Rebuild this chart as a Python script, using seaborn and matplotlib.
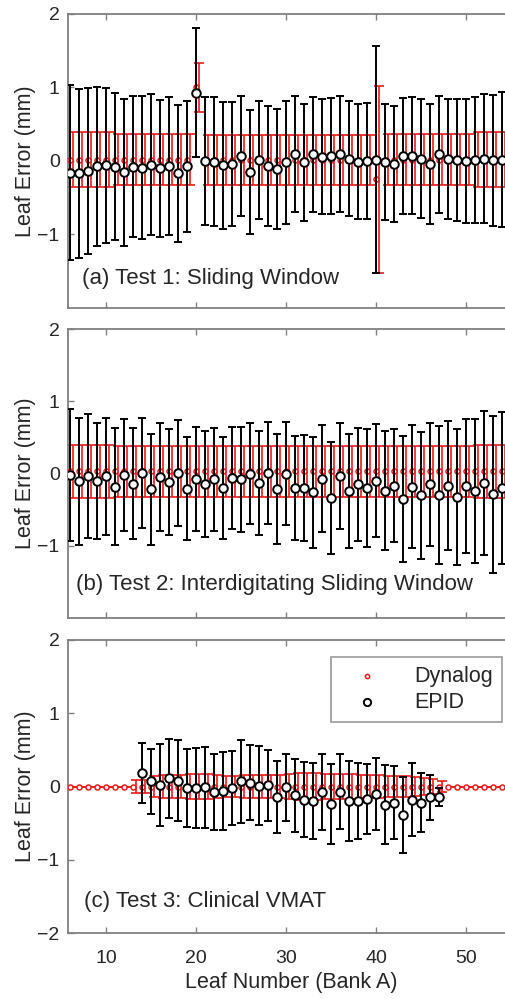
import numpy as np
import pandas as pd
import matplotlib
matplotlib.use("Agg")
import matplotlib.pyplot as plt
import matplotlib.transforms as mtransforms
import seaborn as sns

# ---------------- data ----------------
leaves = list(range(6, 55))

# Panel (a) Test 1: Sliding Window
t1_dyn_mean = [0.02] * 14 + [1.00] + [0.02] * 19 + [-0.25] + [0.02] * 14
t1_dyn_err = [0.37] * 5 + [0.35] * 9 + [0.33] + [0.34] * 19 + [1.27] + [0.35] * 10 + [0.37] * 4
t1_epid_mean = [-0.16, -0.17, -0.14, -0.07, -0.06, -0.08, -0.15, -0.08, -0.09, -0.05,
                -0.10, -0.07, -0.17, -0.07, 0.93, 0.00, -0.01, -0.06, -0.04, 0.07,
                -0.15, 0.01, -0.07, -0.11, -0.02, 0.09, -0.02, 0.09, 0.06, 0.07,
                0.09, 0.03, -0.01, 0.00, 0.02, -0.01, -0.04, 0.07, 0.07, 0.03,
                -0.04, 0.09, 0.03, 0.01, 0.00, 0.01, 0.03, 0.01, 0.02]
t1_epid_err = [1.19, 1.15, 1.13, 1.08, 1.05, 1.00, 1.00, 0.96, 0.97, 0.96,
               0.93, 0.94, 0.93, 0.89, 0.88, 0.87, 0.875, 0.865, 0.845, 0.82,
               0.84, 0.805, 0.815, 0.815, 0.84, 0.79, 0.80, 0.78, 0.78, 0.79,
               0.79, 0.78, 0.78, 0.79, 1.54, 0.79, 0.785, 0.785, 0.795, 0.81,
               0.815, 0.80, 0.82, 0.83, 0.845, 0.855, 0.875, 0.89, 0.915]

# Panel (b) Test 2: Interdigitating Sliding Window
t2_dyn_mean = [0.03] * 49
t2_dyn_err = [0.37] * 5 + [0.35] * 40 + [0.37] * 4
t2_epid_mean = [-0.02, -0.11, -0.03, -0.10, -0.04, -0.18, -0.02, -0.14, 0.01, -0.22,
                -0.05, -0.12, 0.01, -0.21, -0.08, -0.14, -0.08, -0.20, -0.06, -0.08,
                0.00, -0.13, 0.01, -0.22, 0.00, -0.20, -0.20, -0.26, -0.07, -0.34,
                -0.04, -0.24, -0.15, -0.20, -0.10, -0.24, -0.17, -0.35, -0.18, -0.30,
                -0.15, -0.30, -0.17, -0.33, -0.17, -0.24, -0.13, -0.29, -0.20]
t2_epid_err = [0.91, 0.875, 0.86, 0.805, 0.805, 0.805, 0.78, 0.77, 0.76, 0.765,
               0.75, 0.735, 0.73, 0.715, 0.72, 0.735, 0.715, 0.71, 0.71, 0.725,
               0.70, 0.72, 0.705, 0.76, 0.71, 0.725, 0.735, 0.765, 0.735, 0.78,
               0.735, 0.785, 0.78, 0.815, 0.785, 0.825, 0.785, 0.875, 0.85, 0.88,
               0.855, 0.955, 0.89, 0.94, 0.925, 0.995, 1.00, 1.085, 1.05]

# Panel (c) Test 3: Clinical VMAT
t3_dyn_mean = [0.0] * 49
t3_dyn_err = ([0.0] * 7 +
              [0.09, 0.09, 0.15, 0.16, 0.16, 0.16, 0.17, 0.17, 0.17, 0.16,
               0.15, 0.15, 0.16, 0.16, 0.16, 0.16, 0.16, 0.17, 0.19, 0.19,
               0.19, 0.17, 0.17, 0.17, 0.17, 0.16, 0.16, 0.16, 0.15, 0.15,
               0.15, 0.13, 0.12, 0.10, 0.07] +
              [0.0] * 7)
t3_epid_leaves = list(range(14, 48))
t3_epid_mean = [0.18, 0.07, 0.02, 0.11, 0.08, -0.02, -0.02, -0.01, -0.07, -0.06,
                -0.02, 0.07, 0.05, 0.01, 0.02, -0.14, -0.01, -0.12, -0.18, -0.20,
                -0.07, -0.24, -0.07, -0.20, -0.20, -0.17, -0.10, -0.25, -0.22, -0.39,
                -0.18, -0.22, -0.15, -0.14]
t3_epid_err = [0.41, 0.445, 0.555, 0.54, 0.555, 0.53, 0.55, 0.55, 0.52, 0.535,
               0.51, 0.565, 0.51, 0.54, 0.485, 0.49, 0.46, 0.50, 0.51, 0.52,
               0.52, 0.545, 0.51, 0.55, 0.52, 0.475, 0.49, 0.54, 0.50, 0.52,
               0.50, 0.40, 0.31, 0.12]

panel_titles = ["(a) Test 1: Sliding Window",
                "(b) Test 2: Interdigitating Sliding Window",
                "(c) Test 3: Clinical VMAT"]
x_ticks = [10, 20, 30, 40, 50]
series_names = ["Dynalog", "EPID"]

# ---------------- style ----------------
sns.set_theme(style="white")
plt.rcParams["font.family"] = ["Liberation Sans", "DejaVu Sans"]

RED = "#ec1a1a"
GRAY = "#808080"
TXT = "#262626"

W, H = 506, 999
fig = plt.figure(figsize=(W / 100, H / 100), dpi=100)

xlim = (5.78, 55.3)
left = 68 / W
width = (xlim[1] - xlim[0]) * 9.0 / W

boxes = [(14, 308), (329, 618), (640, 933)]
text_pos = [(7.35, -1.60), (6.7, -1.54), (7.55, -1.57)]

panels = [
    (leaves, t1_dyn_mean, t1_dyn_err, leaves, t1_epid_mean, t1_epid_err),
    (leaves, t2_dyn_mean, t2_dyn_err, leaves, t2_epid_mean, t2_epid_err),
    (leaves, t3_dyn_mean, t3_dyn_err, t3_epid_leaves, t3_epid_mean, t3_epid_err),
]

for i, ((top, bot), data) in enumerate(zip(boxes, panels)):
    ax = fig.add_axes([left, 1 - bot / H, width, (bot - top) / H])
    dx, dm, de, ex, em, ee = data
    dyn = pd.DataFrame({"leaf": dx, "err": dm, "sd": de})
    epid = pd.DataFrame({"leaf": ex, "err": em, "sd": ee})

    # slight visual dodge of the Dynalog bars so they are not hidden under EPID bars
    dodge = mtransforms.ScaledTranslation(3 / 100, 0, fig.dpi_scale_trans)
    eb = ax.errorbar(dyn["leaf"], dyn["err"], yerr=dyn["sd"], fmt="none",
                     ecolor=RED, elinewidth=1.2, capsize=3.3, capthick=1.2, zorder=2)
    for art in eb.lines[1] + eb.lines[2]:
        art.set_transform(art.get_transform() + dodge)
    sns.scatterplot(data=dyn, x="leaf", y="err", ax=ax, marker="o", s=13,
                    color="white", edgecolor=RED, linewidth=1.1, zorder=3,
                    label=series_names[0])
    ax.errorbar(epid["leaf"], epid["err"], yerr=epid["sd"], fmt="none",
                ecolor="black", elinewidth=1.4, capsize=3.0, capthick=1.4, zorder=4)
    sns.scatterplot(data=epid, x="leaf", y="err", ax=ax, marker="o", s=38,
                    color="white", edgecolor="black", linewidth=1.4, zorder=5,
                    label=series_names[1])

    ax.set_xlim(*xlim)
    ax.set_ylim(-2, 2)
    ax.set_xticks(x_ticks)
    if i < 2:
        ax.set_yticks([-1, 0, 1, 2])
        ax.set_xticklabels([])
        ax.set_xlabel("")
    else:
        ax.set_yticks([-2, -1, 0, 1, 2])
        ax.set_xlabel("Leaf Number (Bank A)", fontsize=15.5, color=TXT, labelpad=3)
    ax.set_ylabel("Leaf Error (mm)", fontsize=15.5, color=TXT, labelpad=1)
    ax.tick_params(axis="both", which="both", direction="in", length=4,
                   width=1.0, color=GRAY, labelsize=14, labelcolor=TXT,
                   top=True, bottom=True, left=True, right=False)
    ax.tick_params(axis="y", pad=6)
    ax.tick_params(axis="x", pad=12.5)
    for side in ["top", "bottom", "left"]:
        ax.spines[side].set_color(GRAY)
        ax.spines[side].set_linewidth(1.3)
    ax.spines["right"].set_visible(False)

    tx, ty = text_pos[i]
    ax.text(tx, ty, panel_titles[i], fontsize=16, color=TXT, va="center", ha="left")

    if i < 2:
        ax.get_legend().remove()
    else:
        handles, labels = ax.get_legend_handles_labels()
        ax.get_legend().remove()
        leg = ax.legend(handles, labels, loc="upper right",
                        bbox_to_anchor=(502 / W, 1 - 657 / H),
                        bbox_transform=fig.transFigure, frameon=True,
                        fancybox=False, fontsize=15.5, handlelength=2.6,
                        handletextpad=0.9, borderpad=0.4, labelspacing=0.25,
                        borderaxespad=0, markerscale=0.85)
        leg.get_frame().set_edgecolor(GRAY)
        leg.get_frame().set_linewidth(1.2)
        for t in leg.get_texts():
            t.set_color(TXT)

fig.savefig("out.png", dpi=100)
